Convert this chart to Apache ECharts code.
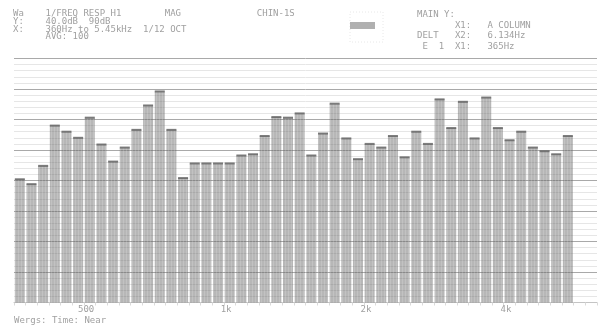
<!DOCTYPE html>
<html>
<head>
<meta charset="utf-8">
<script src="https://cdn.jsdelivr.net/npm/echarts@6/dist/echarts.min.js"></script>
<style>
  html, body { margin: 0; padding: 0; background: #fff; }
  #chart { width: 611px; height: 328px; }
</style>
</head>
<body>
<div id="chart"></div>
<script>
// 1/12 octave band centres, 360 Hz .. 5.45 kHz
const bandFreqs = [
  360, 381, 404, 428, 454, 481, 509, 539, 571, 605, 641, 680,
  720, 763, 808, 856, 907, 961, 1018, 1079, 1143, 1211, 1283, 1359,
  1440, 1526, 1616, 1712, 1814, 1922, 2036, 2157, 2286, 2422, 2566, 2718,
  2880, 3051, 3233, 3425, 3629, 3845, 4073, 4315, 4572, 4844, 5132, 5437
];

// magnitude per band (dB)
const levels = [
  70.2, 69.4, 72.4, 79.0, 78.0, 77.0, 80.3, 75.9, 73.1, 75.4, 78.3, 82.3,
  84.6, 78.3, 70.4, 72.8, 72.8, 72.8, 72.8, 74.1, 74.3, 77.3, 80.4, 80.3,
  81.0, 74.1, 77.7, 82.6, 76.9, 73.5, 76.0, 75.4, 77.3, 73.8, 78.0, 76.0,
  83.3, 78.6, 82.9, 76.9, 83.6, 78.6, 76.6, 78.0, 75.4, 74.8, 74.3, 77.3
];

// frequency tick labels on the log axis
const tickFreqs = [500, 1000, 2000, 4000];
const tickLabels = ['500', '1k', '2k', '4k'];

const leftHeader = [
  'Wa    1/FREQ RESP H1        MAG              CHIN-1S',
  'Y:    40.0dB  90dB',
  'X:    360Hz to 5.45kHz  1/12 OCT',
  '      AVG: 100'
];
const rightHeader = [
  'MAIN Y:',
  '       X1:   A COLUMN',
  'DELT   X2:   6.134Hz',
  ' E  1  X1:   365Hz'
];
const footer = 'Wergs: Time: Near';

const mono = '"DejaVu Sans Mono", "Liberation Mono", monospace';
const textGrey = '#a0a0a0';

// band position of a frequency (in bar slots)
const tickPos = tickFreqs.map(f => 12 * Math.log2(f / bandFreqs[0]) + 0.5);

const chart = echarts.init(document.getElementById('chart'));

chart.setOption({
  animation: false,
  backgroundColor: '#fff',
  title: [
    {
      left: 13, top: 10, padding: 0,
      text: leftHeader.join('\n'),
      textStyle: { fontFamily: mono, fontSize: 9, fontWeight: 'normal', color: textGrey, lineHeight: 7.7 }
    },
    {
      left: 417, top: 9, padding: 0,
      text: rightHeader.join('\n'),
      textStyle: { fontFamily: mono, fontSize: 9, fontWeight: 'normal', color: textGrey, lineHeight: 10.8 }
    },
    {
      left: 14, top: 316, padding: 0,
      text: footer,
      textStyle: { fontFamily: mono, fontSize: 9, fontWeight: 'normal', color: textGrey }
    }
  ],
  graphic: [
    {
      type: 'rect',
      shape: { x: 350, y: 12, width: 33, height: 30 },
      style: { fill: 'none', stroke: '#e8e8e8', lineDash: [1, 2] }
    },
    {
      type: 'rect',
      shape: { x: 350, y: 22, width: 25, height: 7 },
      style: { fill: '#b0b0b0' }
    }
  ],
  grid: { left: 14, right: 14, top: 58.5, bottom: 25.5 },
  xAxis: [
    {
      type: 'category',
      data: bandFreqs,
      max: bandFreqs.length + 1,
      axisLabel: { show: false },
      axisLine: { lineStyle: { color: '#c4c4c4' } },
      axisTick: { show: true, interval: 0, length: 3, lineStyle: { color: '#dadada' } },
      splitLine: { show: false }
    },
    {
      type: 'value',
      min: 0,
      max: bandFreqs.length + 2,
      position: 'bottom',
      axisLine: { show: false },
      axisTick: { show: false },
      splitLine: { show: false },
      axisLabel: {
        customValues: tickPos,
        formatter: v => {
          const i = tickPos.findIndex(p => Math.abs(p - v) < 1e-6);
          return i >= 0 ? tickLabels[i] : '';
        },
        margin: 3,
        fontFamily: mono,
        fontSize: 9,
        color: textGrey
      }
    }
  ],
  yAxis: {
    type: 'value',
    min: 50,
    max: 90,
    interval: 5,
    axisLabel: { show: false },
    axisLine: { show: false },
    axisTick: { show: false },
    splitLine: { lineStyle: { color: '#a9a9a9', width: 1 } },
    minorTick: { show: false, splitNumber: 5 },
    minorSplitLine: { show: true, lineStyle: { color: '#e6e6e6', width: 1 } }
  },
  series: [
    {
      type: 'bar',
      data: levels,
      barWidth: 10,
      itemStyle: {
        color: 'rgba(105,105,105,0.48)',
        decal: {
          symbol: 'rect',
          symbolSize: 1,
          dashArrayX: [1, 2],
          dashArrayY: [3, 0],
          color: 'rgba(255,255,255,0.16)'
        }
      },
      silent: true
    },
    {
      // dark cap on each bar top
      type: 'scatter',
      data: levels,
      symbol: 'rect',
      symbolSize: [10, 2],
      itemStyle: { color: '#5e5e5e' },
      z: 5,
      silent: true
    }
  ]
});
</script>
</body>
</html>
